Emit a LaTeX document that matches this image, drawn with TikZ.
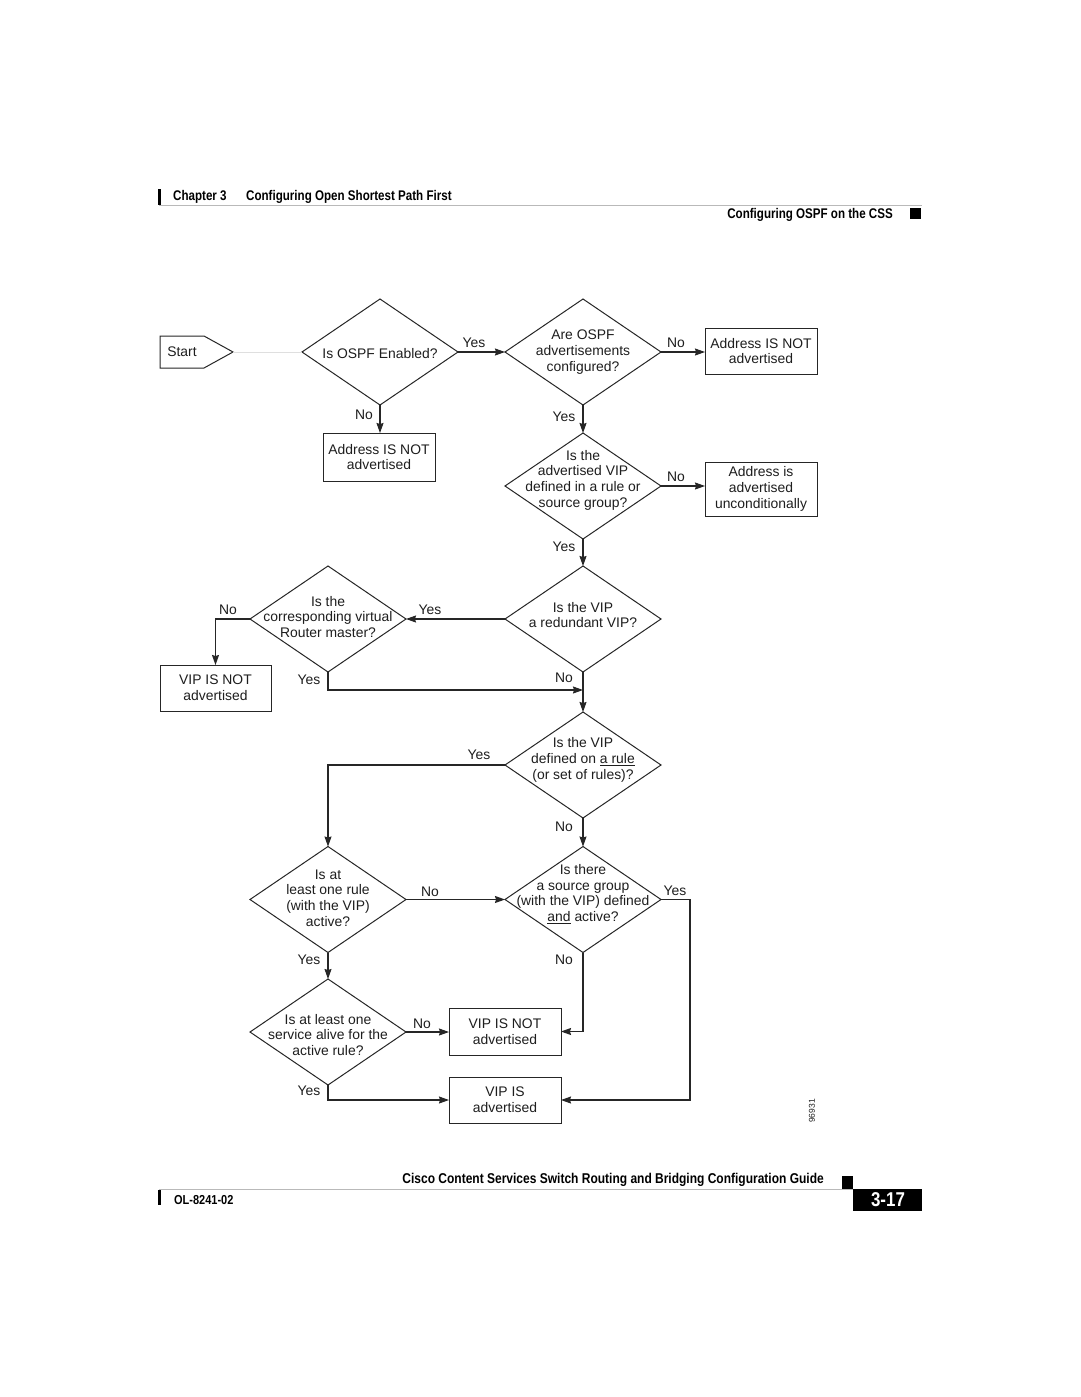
\documentclass[tikz,border=0pt]{standalone}
\usepackage{fontspec}
\setmainfont{Liberation Sans}
\newfontfamily\hdr[FakeStretch=0.845]{Liberation Sans Bold}
\usetikzlibrary{shapes.geometric,arrows.meta}
\definecolor{linec}{HTML}{262626}
\definecolor{textc}{HTML}{1E1E1E}
\begin{document}
\begin{tikzpicture}[x=1pt,y=-1pt,
  dia/.style={diamond, draw=linec, line width=1pt, inner sep=0pt, outer sep=0pt, minimum width=156pt, minimum height=106pt},
  txt/.style={font=\fontsize{13.9}{15.7}\selectfont, align=center, text=textc, inner sep=0pt, yshift=-1pt},
  lbl/.style={font=\fontsize{13.9}{15.7}\selectfont, text=textc, inner sep=0pt, yshift=-1pt},
  boxn/.style={draw=linec, line width=1pt, rectangle, inner sep=0pt, outer sep=0pt, minimum width=112pt, minimum height=47pt, font=\fontsize{13.9}{15.7}\selectfont, align=center, text=textc},
  arr/.style={draw=linec, line width=1.1pt, -{Stealth[length=10pt,width=7pt,inset=1pt]}},
  hdrtxt/.style={font=\hdr\fontsize{14.2}{16}\selectfont, inner sep=0pt},
  hdrtxtb/.style={font=\hdr\fontsize{14}{16}\selectfont, inner sep=0pt, xscale=0.98}
]
\useasboundingbox (0,0) rectangle (1080,1397);
\fill[white] (0,0) rectangle (1080,1397);

% header
\fill[black] (158,189) rectangle (160.5,205);
\draw[gray!55, line width=1pt] (159,205.5) -- (922,205.5);
\node[hdrtxtb, anchor=west] (chap) at (173,197) {Chapter 3};
\node[hdrtxtb, anchor=west] (chtitle) at (246,197) {Configuring Open Shortest Path First};
\node[hdrtxtb, anchor=east] (sect) at (893,215) {Configuring OSPF on the CSS};
\fill[black] (910,208) rectangle (921,219);

% footer
\node[hdrtxt, anchor=east] (guide) at (824,1180) {Cisco Content Services Switch Routing and Bridging Configuration Guide};
\fill[black] (842,1176) rectangle (853,1189);
\draw[gray!55, line width=1pt] (159,1189.5) -- (853,1189.5);
\fill[black] (853,1189) rectangle (922,1211);
\node[font=\hdr\fontsize{20}{22}\selectfont, text=white, inner sep=0pt] (pg) at (888,1200) {3-17};
\fill[black] (158,1190) rectangle (160.5,1205);
\node[font=\hdr\fontsize{13}{15}\selectfont, anchor=west, inner sep=0pt] (ol) at (174,1200) {OL-8241-02};

% start
\draw[linec, line width=1pt] (160,336) -- (204,336) -- (233,352) -- (204,368) -- (160,368) -- cycle;
\coordinate (starttip) at (233,352);
\node[txt] (start) at (182,351) {Start};

% diamonds
\node[dia] (d1) at (380,352) {};
\node[txt] (t1) at (380,353) {Is OSPF Enabled?};
\node[dia] (d2) at (583,352) {};
\node[txt] (t2) at (583,351) {Are OSPF\\advertisements\\configured?};
\node[dia] (d3) at (583,486) {};
\node[txt] (t3) at (583,479) {Is the\\advertised VIP\\defined in a rule or\\source group?};
\node[dia] (d4) at (583,619) {};
\node[txt] (t4) at (583,614) {Is the VIP\\a redundant VIP?};
\node[dia] (d5) at (328,619) {};
\node[txt] (t5) at (328,616) {Is the\\corresponding virtual\\Router master?};
\node[dia] (d6) at (583,765) {};
\node[txt] (t6) at (583,759) {Is the VIP\\defined on \underline{a rule}\\(or set of rules)?};
\node[dia] (d7) at (328,899.5) {};
\node[txt] (t7) at (328,897) {Is at\\least one rule\\(with the VIP)\\active?};
\node[dia] (d8) at (583,899.5) {};
\node[txt] (t8) at (583,893) {Is there\\a source group\\(with the VIP) defined\\\underline{and} active?};
\node[dia] (d9) at (328,1032) {};
\node[txt] (t9) at (328,1034) {Is at least one\\service alive for the\\active rule?};

% boxes
\node[boxn, minimum height=46pt] (b1) at (761,351) {Address IS NOT\\advertised};
\node[boxn, minimum height=48pt] (b2) at (379,457) {Address IS NOT\\advertised};
\node[boxn, minimum height=54pt] (b3) at (761,489) {Address is\\advertised\\unconditionally};
\node[boxn, minimum width=111pt, minimum height=46pt] (b4) at (215.5,688) {VIP IS NOT\\advertised};
\node[boxn] (b5) at (505,1031.5) {VIP IS NOT\\advertised};
\node[boxn, minimum height=46pt] (b6) at (505,1100) {VIP IS\\advertised};

% connectors
\draw[gray!25, line width=1pt] (starttip) -- (d1.west);
\draw[arr] (d1.east) -- (d2.west);
\draw[arr] (d2.east) -- (d2.east -| b1.west);
\draw[arr] (d1.south) -- (d1.south |- b2.north);
\draw[arr] (d2.south) -- (d3.north);
\draw[arr] (d3.east) -- (d3.east -| b3.west);
\draw[arr] (d3.south) -- (d4.north);
\draw[arr] (d4.west) -- (d5.east);
\draw[arr] (d5.west) -| (b4.north);
\coordinate (j1) at (583,690);
\draw[arr] (d5.south) |- (j1);
\draw[arr] (d4.south) -- (d6.north);
\draw[arr] (d6.west) -| (d7.north);
\draw[arr] (d6.south) -- (d8.north);
\draw[arr] (d7.east) -- (d8.west);
\coordinate (c8) at (690,899.5);
\draw[arr] (d8.east) -- (c8) |- (b6.east);
\draw[arr] (d8.south) |- (b5.east);
\draw[arr] (d7.south) -- (d9.north);
\draw[arr] (d9.east) -- (d9.east -| b5.west);
\draw[arr] (d9.south) |- (b6.west);

% labels
\node[lbl] (l1) at (474,342) {Yes};
\node[lbl] (l2) at (676,342) {No};
\node[lbl] (l3) at (364,414) {No};
\node[lbl] (l4) at (564,416) {Yes};
\node[lbl] (l5) at (676,476) {No};
\node[lbl] (l6) at (564,546) {Yes};
\node[lbl] (l7) at (430,609) {Yes};
\node[lbl] (l8) at (228,609) {No};
\node[lbl] (l9) at (309,679) {Yes};
\node[lbl] (l10) at (564,677) {No};
\node[lbl] (l11) at (479,754) {Yes};
\node[lbl] (l12) at (564,826) {No};
\node[lbl] (l13) at (430,891) {No};
\node[lbl] (l14) at (675,890) {Yes};
\node[lbl] (l15) at (309,959) {Yes};
\node[lbl] (l16) at (564,959) {No};
\node[lbl] (l17) at (422,1023) {No};
\node[lbl] (l18) at (309,1090) {Yes};

\node[font=\fontsize{8.5}{9}\selectfont, rotate=90, text=textc, inner sep=0pt] (fig) at (812,1111) {96931};
\end{tikzpicture}
\end{document}
